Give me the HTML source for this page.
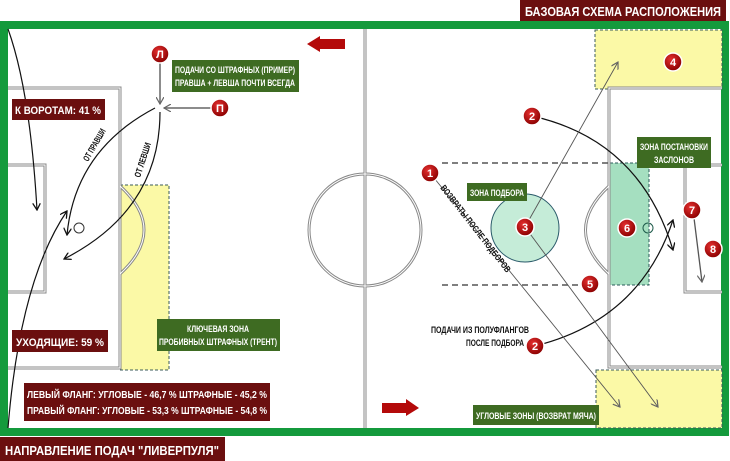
<!DOCTYPE html>
<html><head><meta charset="utf-8"><style>
html,body{margin:0;padding:0;background:#fff;}
svg{display:block}
text{font-family:"Liberation Sans",sans-serif;font-weight:bold;}
</style></head><body>
<svg width="730" height="461" viewBox="0 0 730 461" xmlns="http://www.w3.org/2000/svg">
<defs>
<marker id="ab" markerWidth="8" markerHeight="8" refX="7" refY="4" orient="auto" markerUnits="userSpaceOnUse"><path d="M0,0 L7,4 L0,8" fill="none" stroke="#111" stroke-width="1.3"/></marker>
<marker id="ag" markerWidth="8" markerHeight="8" refX="7" refY="4" orient="auto" markerUnits="userSpaceOnUse"><path d="M0,0 L7,4 L0,8" fill="none" stroke="#666" stroke-width="1.2"/></marker>
<radialGradient id="rb" cx="40%" cy="35%" r="65%"><stop offset="0" stop-color="#e53030"/><stop offset="1" stop-color="#8a0000"/></radialGradient>
</defs>
<rect width="730" height="461" fill="#fff"/>
<!-- field border -->
<rect x="4" y="25" width="721" height="407" fill="#fff" stroke="#149a3c" stroke-width="8"/>
<!-- zones -->
<rect x="120" y="185" width="49" height="185" fill="#fbf9a6" stroke="#3a5a5a" stroke-width="1" stroke-dasharray="3,2"/>
<rect x="595" y="30" width="127" height="59" fill="#fbf9a6" stroke="#3a5a5a" stroke-width="1" stroke-dasharray="3,2"/>
<rect x="596" y="370" width="126" height="58" fill="#fbf9a6" stroke="#3a5a5a" stroke-width="1" stroke-dasharray="3,2"/>
<rect x="610" y="163" width="39" height="122" fill="#a5dfc0" stroke="#2a5a5a" stroke-width="1" stroke-dasharray="3,2"/>
<circle cx="525" cy="228" r="34" fill="#c5ecd8" stroke="#2a5a6a" stroke-width="1"/>
<!-- field lines -->
<g fill="none" stroke="#888" stroke-width="3"><g>
<line x1="365" y1="29" x2="365" y2="428"/>
<circle cx="365" cy="230" r="56"/>
<path d="M8,88 H120 V368 H8"/>
<path d="M8,165 H45 V292 H8"/>
<path d="M722,88 H609 V367 H722"/>
<path d="M722,165 H685 V292 H722"/>
<path d="M120,186 Q168,230 120,274"/>
<path d="M609,186 Q562,230 609,274"/>
</g></g>
<g fill="none" stroke="#fff" stroke-width="1">
<line x1="365" y1="29" x2="365" y2="428"/>
<circle cx="365" cy="230" r="56"/>
<path d="M8,88 H120 V368 H8"/>
<path d="M8,165 H45 V292 H8"/>
<path d="M722,88 H609 V367 H722"/>
<path d="M722,165 H685 V292 H722"/>
<path d="M120,186 Q168,230 120,274"/>
<path d="M609,186 Q562,230 609,274"/>
</g>
<circle cx="79" cy="228" r="5" fill="#fff" stroke="#333"/>
<circle cx="648" cy="228" r="5" fill="none" stroke="#1d5a4a"/>
<!-- dashed lines -->
<line x1="442" y1="163" x2="610" y2="163" stroke="#555" stroke-width="1.5" stroke-dasharray="6,4"/>
<line x1="442" y1="285" x2="592" y2="285" stroke="#555" stroke-width="1.5" stroke-dasharray="6,4"/>
<!-- left arrows -->
<g fill="none" stroke="#111" stroke-width="1.2">
<path d="M8,29 Q30,90 37,210" marker-end="url(#ab)"/>
<path d="M8,428 Q20,280 67,211" marker-end="url(#ab)"/>
<path d="M155,108 Q75,150 67,235" marker-end="url(#ab)"/>
<path d="M160,112 Q160,210 64,259" marker-end="url(#ab)"/>
<path d="M532,116 Q640,140 673,250" marker-end="url(#ab)"/>
<path d="M535,346 Q640,320 673,220" marker-end="url(#ab)"/>
</g>
<g fill="none" stroke="#666" stroke-width="1.5">
<line x1="160" y1="62" x2="160" y2="104" marker-end="url(#ag)"/>
<line x1="212" y1="108" x2="164" y2="108" marker-end="url(#ag)"/>
</g>
<g fill="none" stroke="#555" stroke-width="0.9">
<line x1="525" y1="227" x2="618" y2="62" marker-end="url(#ag)"/>
<line x1="430" y1="173" x2="620" y2="407" marker-end="url(#ag)"/>
<line x1="525" y1="227" x2="658" y2="407" marker-end="url(#ag)"/>
<line x1="693" y1="210" x2="702" y2="282" marker-end="url(#ag)" stroke-width="1.3"/>
</g>
<!-- red arrows -->
<path d="M345,39 H320 V36 L307,44 L320,52 V49 H345 Z" fill="#b40a0a"/>
<path d="M382,403 H406 V399 L419,408 L406,416 V413 H382 Z" fill="#b40a0a"/>
<!-- badges -->
<g stroke="#fff" stroke-width="1.5" fill="url(#rb)">
<circle cx="160" cy="54" r="9"/><circle cx="220" cy="108" r="9"/>
<circle cx="430" cy="173" r="9"/><circle cx="532" cy="116" r="9"/>
<circle cx="525" cy="227" r="9"/><circle cx="673" cy="62" r="9"/>
<circle cx="590" cy="284" r="9"/><circle cx="627" cy="228" r="9"/>
<circle cx="692" cy="210" r="9"/><circle cx="713" cy="249" r="9"/>
<circle cx="535" cy="346" r="9"/>
</g>
<g fill="#fff" font-size="11" text-anchor="middle">
<text x="160" y="58">Л</text><text x="220" y="112">П</text>
<text x="430" y="177">1</text><text x="532" y="120">2</text>
<text x="525" y="231">3</text><text x="673" y="66">4</text>
<text x="590" y="288">5</text><text x="627" y="232">6</text>
<text x="692" y="214">7</text><text x="713" y="253">8</text>
<text x="535" y="350">2</text>
</g>
<!-- label boxes -->
<rect x="520" y="0" width="206" height="21" fill="#6b0f0f"/>
<text x="623" y="16" fill="#fff" font-size="13" text-anchor="middle" textLength="196" lengthAdjust="spacingAndGlyphs">БАЗОВАЯ СХЕМА РАСПОЛОЖЕНИЯ</text>
<rect x="0" y="437" width="225" height="24" fill="#6b0f0f"/>
<text x="112" y="455" fill="#fff" font-size="13" text-anchor="middle" textLength="214" lengthAdjust="spacingAndGlyphs">НАПРАВЛЕНИЕ ПОДАЧ "ЛИВЕРПУЛЯ"</text>
<rect x="12" y="99" width="93" height="21" fill="#6b0f0f"/>
<text x="58" y="114" fill="#fff" font-size="11" text-anchor="middle" textLength="86" lengthAdjust="spacingAndGlyphs">К ВОРОТАМ: 41 %</text>
<rect x="12" y="330" width="96" height="22" fill="#6b0f0f"/>
<text x="60" y="346" fill="#fff" font-size="11" text-anchor="middle" textLength="88" lengthAdjust="spacingAndGlyphs">УХОДЯЩИЕ: 59 %</text>
<rect x="24" y="383" width="246" height="38" fill="#6b0f0f"/>
<text x="27" y="398" fill="#fff" font-size="10" textLength="240" lengthAdjust="spacingAndGlyphs">ЛЕВЫЙ ФЛАНГ:   УГЛОВЫЕ - 46,7 %   ШТРАФНЫЕ - 45,2 %</text>
<text x="27" y="414" fill="#fff" font-size="10" textLength="240" lengthAdjust="spacingAndGlyphs">ПРАВЫЙ ФЛАНГ:  УГЛОВЫЕ - 53,3 %   ШТРАФНЫЕ - 54,8 %</text>
<rect x="172" y="60" width="127" height="32" fill="#3e6b22"/>
<text x="235" y="73" fill="#fff" font-size="9" text-anchor="middle" textLength="120" lengthAdjust="spacingAndGlyphs">ПОДАЧИ СО ШТРАФНЫХ (ПРИМЕР)</text>
<text x="235" y="86" fill="#fff" font-size="9" text-anchor="middle" textLength="120" lengthAdjust="spacingAndGlyphs">ПРАВША + ЛЕВША ПОЧТИ ВСЕГДА</text>
<rect x="157" y="319" width="123" height="32" fill="#3e6b22"/>
<text x="218" y="332" fill="#fff" font-size="9" text-anchor="middle" textLength="62" lengthAdjust="spacingAndGlyphs">КЛЮЧЕВАЯ ЗОНА</text>
<text x="218" y="345" fill="#fff" font-size="9" text-anchor="middle" textLength="118" lengthAdjust="spacingAndGlyphs">ПРОБИВНЫХ ШТРАФНЫХ (ТРЕНТ)</text>
<rect x="467" y="183" width="60" height="18" fill="#3e6b22"/>
<text x="497" y="196" fill="#fff" font-size="9" text-anchor="middle" textLength="54" lengthAdjust="spacingAndGlyphs">ЗОНА ПОДБОРА</text>
<rect x="637" y="137" width="74" height="31" fill="#3e6b22"/>
<text x="674" y="150" fill="#fff" font-size="9" text-anchor="middle" textLength="68" lengthAdjust="spacingAndGlyphs">ЗОНА ПОСТАНОВКИ</text>
<text x="674" y="163" fill="#fff" font-size="9" text-anchor="middle" textLength="40" lengthAdjust="spacingAndGlyphs">ЗАСЛОНОВ</text>
<rect x="473" y="405" width="126" height="20" fill="#3e6b22"/>
<text x="536" y="419" fill="#fff" font-size="9" text-anchor="middle" textLength="120" lengthAdjust="spacingAndGlyphs">УГЛОВЫЕ ЗОНЫ (ВОЗВРАТ МЯЧА)</text>
<text x="529" y="333" fill="#111" font-size="9" text-anchor="end" textLength="98" lengthAdjust="spacingAndGlyphs">ПОДАЧИ ИЗ ПОЛУФЛАНГОВ</text>
<text x="524" y="346" fill="#111" font-size="9" text-anchor="end" textLength="58" lengthAdjust="spacingAndGlyphs">ПОСЛЕ ПОДБОРА</text>
<text transform="translate(440,188) rotate(52)" fill="#111" font-size="9" textLength="108" lengthAdjust="spacingAndGlyphs">ВОЗВРАТЫ ПОСЛЕ ПОДБОРОВ</text>
<text transform="translate(88,162) rotate(-60)" fill="#111" font-size="9" textLength="36" lengthAdjust="spacingAndGlyphs">ОТ ПРАВШИ</text>
<text transform="translate(140,178) rotate(-72)" fill="#111" font-size="9" textLength="36" lengthAdjust="spacingAndGlyphs">ОТ ЛЕВШИ</text>
</svg>
</body></html>
